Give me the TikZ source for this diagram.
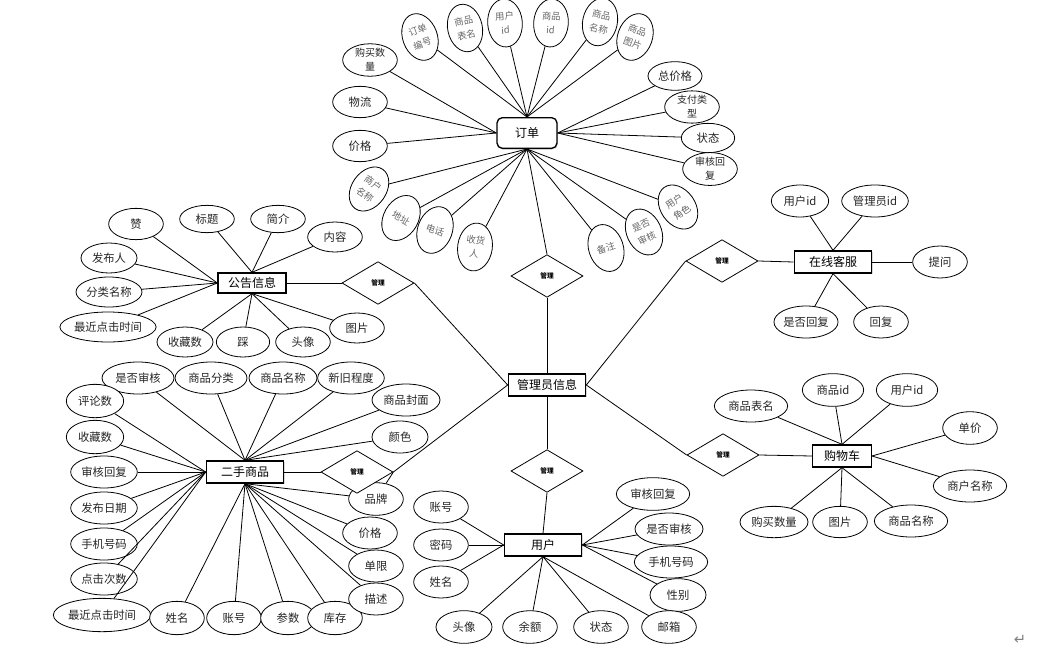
\documentclass[tikz,border=0pt]{standalone}
\usepackage{fontspec}
\newfontfamily\zh{Noto Sans CJK SC}
\newfontfamily\dv{DejaVu Sans}
\usetikzlibrary{shapes.geometric,shadows}
\tikzset{
  attr/.style={ellipse, draw, fill=white, line width=0.6pt, inner sep=0pt,
    minimum width=41pt, minimum height=23.5pt, align=center,
    font=\zh\fontsize{8.5}{9.5}\selectfont, text=black!85},
  attrtwo/.style={attr, font=\zh\fontsize{7.5}{10.5}\selectfont},
  rattr/.style={ellipse, draw, fill=white, line width=0.6pt, inner sep=0pt,
    minimum width=26pt, minimum height=36pt, align=center,
    font=\zh\fontsize{7}{10.5}\selectfont, text=black!60, rotate=#1},
  ent/.style={rectangle, draw, fill=white, line width=1pt, inner sep=0pt,
    minimum width=58pt, minimum height=16.5pt,
    font=\zh\fontsize{9}{10}\selectfont,
    drop shadow={shadow xshift=0.8pt, shadow yshift=-0.8pt, opacity=0.3}},
  rel/.style={diamond, draw, fill=white, line width=0.6pt, inner sep=0pt,
    minimum width=54pt, minimum height=32pt,
    font=\zh\bfseries\fontsize{5}{6}\selectfont},
  conn/.style={line width=0.6pt},
}
\begin{document}
\begin{tikzpicture}[x=0.75pt,y=-0.75pt]
\fill[white] (0,0) rectangle (1052,653);
\useasboundingbox (0,0) rectangle (1052,653);

% ===== 订单 =====
\node[ent, rounded corners=4pt, minimum width=45pt, minimum height=23pt] (order) at (527,133) {订单};
\node[attrtwo, minimum height=21pt] (o1) at (370,60) {购买数\\量};
\node[attr] (o2) at (360,102) {物流};
\node[attr] (o3) at (360,146) {价格};
\node[rattr=20] (o4) at (420,37) {订单\\编号};
\node[rattr=12] (o5) at (465,28) {商品\\表名};
\node[rattr=4] (o6) at (505,23) {用户\\id};
\node[rattr=-4] (o7) at (551,23) {商品\\id};
\node[rattr=-12] (o8) at (600,22) {商品\\名称};
\node[rattr=-20] (o9) at (635,37) {商品\\图片};
\node[attr, minimum width=40.5pt, minimum height=21.5pt] (o10) at (675,76) {总价格};
\node[attrtwo, minimum height=22pt] (o11) at (692,107) {支付类\\型};
\node[attr, minimum width=40pt, minimum height=22pt] (o12) at (708,138) {状态};
\node[attrtwo, minimum height=23pt] (o13) at (710,169) {审核回\\复};
\node[rattr=-35] (o14) at (369,189) {商户\\名称};
\node[rattr=-30] (o15) at (401,218) {地址};
\node[rattr=-20] (o16) at (435,230) {电话};
\node[rattr=-8] (o17) at (475,247) {收货\\人};
\node[rattr=18] (o18) at (606,248) {备注};
\node[rattr=25] (o19) at (644,232) {是否\\审核};
\node[rattr=35] (o20) at (678,207) {用户\\角色};
\foreach \a in {o1,o2,o3} \draw[conn] (\a) -- (order.west);
\foreach \a in {o4,o5,o6,o7,o8,o9} \draw[conn] (\a) -- (order.north);
\foreach \a in {o10,o11,o12,o13} \draw[conn] (\a) -- (order.east);
\foreach \a in {o14,o15,o16,o17,o18,o19,o20} \draw[conn] (\a) -- (order.south);

% ===== 管理员信息 =====
\node[ent] (admin) at (547,385) {管理员信息};
\node[rel] (d1) at (547,276) {管理};
\draw[conn] (order.south) -- (d1.north);
\draw[conn] (d1.south) -- (admin.north);

% ===== 公告信息 =====
\node[ent, minimum width=51pt, minimum height=15pt] (notice) at (252,283) {公告信息};
\node[attr] (n1) at (136,224) {赞};
\node[attr, minimum height=20.5pt] (n2) at (207,219) {标题};
\node[attr, minimum height=20.5pt] (n3) at (278,219) {简介};
\node[attr, minimum height=22.5pt] (n4) at (335,237) {内容};
\node[attr, minimum width=42pt, minimum height=22.5pt] (n5) at (109,258) {发布人};
\node[attr, minimum width=49.5pt, minimum height=22.5pt] (n6) at (109,292) {分类名称};
\node[attr, minimum width=65pt, minimum height=22.5pt] (n7) at (108,327) {最近点击时间};
\node[attr, minimum width=42pt, minimum height=22.5pt] (n8) at (185,342) {收藏数};
\node[attr, minimum width=40pt, minimum height=22.5pt] (n9) at (243,342) {踩};
\node[attr, minimum height=22.5pt] (n10) at (303,342) {头像};
\node[attr, minimum height=22.5pt] (n11) at (357,328) {图片};
\foreach \a in {n1,n5,n6,n7} \draw[conn] (\a) -- (notice.west);
\foreach \a in {n2,n3,n4} \draw[conn] (\a) -- (notice.north);
\foreach \a in {n8,n9,n10,n11} \draw[conn] (\a) -- (notice.south);
\node[rel] (d2) at (378,283) {管理};
\draw[conn] (notice.east) -- (d2.west);
\draw[conn] (d2.east) -- (admin.west);

% ===== 二手商品 =====
\node[ent] (goods) at (245,472) {二手商品};
\node[attr, minimum width=54pt, minimum height=24pt] (g1) at (138,378) {是否审核};
\node[attr, minimum width=54pt, minimum height=24pt] (g2) at (211,378) {商品分类};
\node[attr, minimum width=51pt, minimum height=24pt] (g3) at (283,378) {商品名称};
\node[attr, minimum width=50pt, minimum height=24pt] (g4) at (351,378) {新旧程度};
\node[attr, minimum width=51pt, minimum height=24pt] (g5) at (406,400) {商品封面};
\node[attr, minimum width=42pt, minimum height=24pt] (g6) at (400,437) {颜色};
\node[attr, minimum width=43pt, minimum height=25pt] (g7) at (95,401) {评论数};
\node[attr, minimum width=43pt, minimum height=25pt] (g8) at (95,437) {收藏数};
\node[attr, minimum width=50pt, minimum height=24pt] (g9) at (104,472) {审核回复};
\node[attr, minimum width=50pt, minimum height=24pt] (g10) at (104,508) {发布日期};
\node[attr, minimum width=50pt, minimum height=24pt] (g11) at (104,544) {手机号码};
\node[attr, minimum width=50pt, minimum height=24pt] (g12) at (104,579) {点击次数};
\node[attr, minimum width=73pt, minimum height=25pt] (g13) at (102,615) {最近点击时间};
\node[attr, minimum width=41pt, minimum height=25pt] (g14) at (177,618) {姓名};
\node[attr, minimum width=41pt, minimum height=25pt] (g15) at (234,618) {账号};
\node[attr, minimum width=41pt, minimum height=25pt] (g16) at (288,618) {参数};
\node[attr, minimum width=41pt, minimum height=25pt] (g17) at (335,618) {库存};
\node[attr, minimum width=41pt, minimum height=24pt] (g18) at (376,599) {描述};
\node[attr, minimum width=41pt, minimum height=24pt] (g19) at (376,566) {单限};
\node[attr, minimum width=41pt, minimum height=24pt] (g20) at (370,533) {价格};
\node[attr, minimum width=41pt, minimum height=24.5pt] (g21) at (376,499) {品牌};
\foreach \a in {g1,g2,g3,g4,g5,g6} \draw[conn] (\a) -- (goods.north);
\foreach \a in {g7,g8,g9,g10,g11,g12,g13} \draw[conn] (\a) -- (goods.west);
\foreach \a in {g14,g15,g16,g17,g18,g19,g20,g21} \draw[conn] (\a) -- (goods.south);
\node[rel] (d3) at (357,472) {管理};
\draw[conn] (goods.east) -- (d3.west);
\draw[conn] (d3.east) -- (admin.west);
\draw[conn] (d3.east) -- (g21);

% ===== 用户 =====
\node[ent] (user) at (543,545) {用户};
\node[rel] (d4) at (547,471) {管理};
\draw[conn] (admin.south) -- (d4.north);
\draw[conn] (d4.south) -- (user.north);
\node[attr, minimum width=41pt, minimum height=24pt] (u1) at (441,507) {账号};
\node[attr, minimum width=41pt, minimum height=24pt] (u2) at (441,545) {密码};
\node[attr, minimum width=41pt, minimum height=24pt] (u3) at (441,582) {姓名};
\node[attr, minimum width=55pt, minimum height=24.5pt] (u4) at (653,494) {审核回复};
\node[attr, minimum width=51pt, minimum height=24pt] (u5) at (669,529) {是否审核};
\node[attr, minimum width=55pt, minimum height=24pt] (u6) at (671,562) {手机号码};
\node[attr, minimum width=42pt, minimum height=24.5pt] (u7) at (678,595) {性别};
\node[attr, minimum width=41pt, minimum height=24.5pt] (u8) at (669,627) {邮箱};
\node[attr, minimum width=41pt, minimum height=24.5pt] (u9) at (601,627) {状态};
\node[attr, minimum width=41pt, minimum height=24.5pt] (u10) at (530,627) {余额};
\node[attr, minimum width=42pt, minimum height=24.5pt] (u11) at (464,627) {头像};
\foreach \a in {u1,u2,u3} \draw[conn] (\a) -- (user.west);
\foreach \a in {u4,u5,u6,u7} \draw[conn] (\a) -- (user.east);
\foreach \a in {u8,u9,u10,u11} \draw[conn] (\a) -- (user.south);

% ===== 在线客服 =====
\node[ent] (cs) at (833,262) {在线客服};
\node[rel] (d5) at (722,261) {管理};
\draw[conn] (admin.east) -- (d5.west);
\draw[conn] (d5.east) -- (cs.west);
\node[attr, minimum width=43pt, minimum height=24pt] (c1) at (800,201) {用户id};
\node[attr, minimum width=50pt, minimum height=24pt] (c2) at (875,201) {管理员id};
\node[attr, minimum width=41pt, minimum height=24pt] (c3) at (940,262) {提问};
\node[attr, minimum width=44pt, minimum height=24pt] (c4) at (806,322) {是否回复};
\node[attr, minimum width=41pt, minimum height=24pt] (c5) at (881,322) {回复};
\foreach \a in {c1,c2} \draw[conn] (\a) -- (cs.north);
\draw[conn] (c3) -- (cs.east);
\foreach \a in {c4,c5} \draw[conn] (\a) -- (cs.south);

% ===== 购物车 =====
\node[ent, minimum width=44pt] (cart) at (842,456) {购物车};
\node[rel] (d6) at (723,455) {管理};
\draw[conn] (admin.east) -- (d6.west);
\draw[conn] (d6.east) -- (cart.west);
\node[attr, minimum width=55pt, minimum height=24pt] (k1) at (751,406) {商品表名};
\node[attr, minimum width=46pt, minimum height=24.5pt] (k2) at (833,390) {商品id};
\node[attr, minimum width=46pt, minimum height=24.5pt] (k3) at (907,390) {用户id};
\node[attr, minimum width=41pt, minimum height=24.5pt] (k4) at (970,428) {单价};
\node[attr, minimum width=55pt, minimum height=24pt] (k5) at (970,486) {商户名称};
\node[attr, minimum width=55pt, minimum height=24pt] (k6) at (911,521) {商品名称};
\node[attr, minimum width=41pt, minimum height=23.5pt] (k7) at (840,522) {图片};
\node[attr, minimum width=51pt, minimum height=23.5pt] (k8) at (774,522) {购买数量};
\foreach \a in {k1,k2,k3} \draw[conn] (\a) -- (cart.north);
\foreach \a in {k4,k5} \draw[conn] (\a) -- (cart.east);
\foreach \a in {k6,k7,k8} \draw[conn] (\a) -- (cart.south);

\node[font=\dv\fontsize{11}{12}\selectfont, text=black!50] (ret) at (1020,640) {↵};
\end{tikzpicture}
\end{document}
